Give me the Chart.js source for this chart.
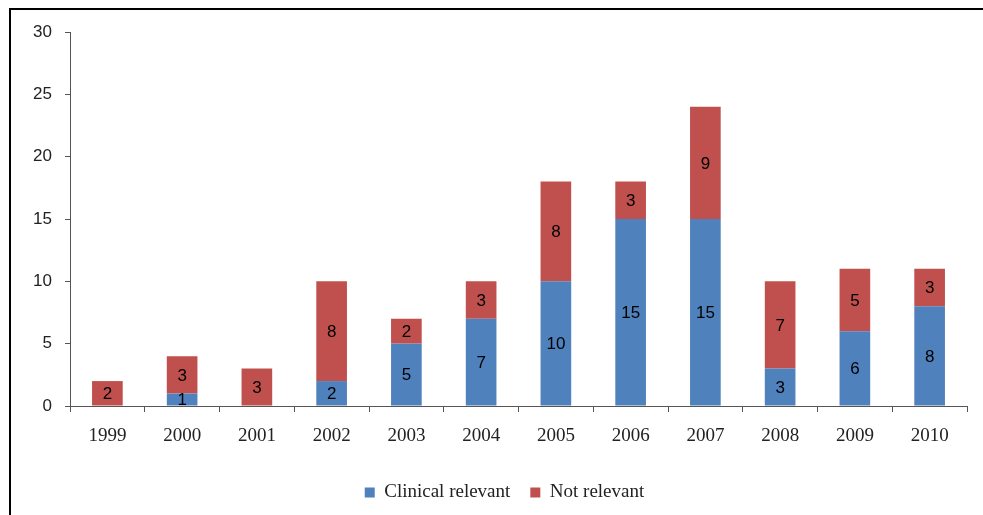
<!DOCTYPE html>
<html>
<head>
<meta charset="utf-8">
<script src="https://cdn.jsdelivr.net/npm/chart.js@4"></script>
<style>
  html, body { margin: 0; padding: 0; background: #fff; }
  #wrap { position: relative; width: 983px; height: 515px; }
  #frame { position: absolute; left: 9px; top: 8px; right: 0; bottom: 0; border-top: 2px solid #000; border-left: 2px solid #000; pointer-events: none; }
  canvas { position: absolute; left: 0; top: 0; }
</style>
</head>
<body>
<div id="wrap">
  <canvas id="chart" width="983" height="515"></canvas>
  <div id="frame"></div>
</div>
<script>
const years = ["1999", "2000", "2001", "2002", "2003", "2004", "2005", "2006", "2007", "2008", "2009", "2010"];
const clinicalRelevant = [0, 1, 0, 2, 5, 7, 10, 15, 15, 3, 6, 8];
const notRelevant = [2, 3, 3, 8, 2, 3, 8, 3, 9, 7, 5, 3];

const serif = "'Liberation Serif', 'DejaVu Serif', serif";
const sans = "'Liberation Sans', Arial, sans-serif";

// numbers in the middle of each bar segment
const barLabels = {
  id: "barLabels",
  afterDatasetsDraw(chart) {
    const ctx = chart.ctx;
    ctx.save();
    ctx.font = "17px " + sans;
    ctx.fillStyle = "#000";
    ctx.textAlign = "center";
    ctx.textBaseline = "middle";
    chart.data.datasets.forEach((ds, i) => {
      chart.getDatasetMeta(i).data.forEach((bar, j) => {
        const v = ds.data[j];
        if (!v) return;
        const p = bar.getProps(["x", "y", "base"], true);
        ctx.fillText(v, p.x, (p.y + p.base) / 2 + 1);
      });
    });
    ctx.restore();
  }
};

// legend sits a bit right of centre in the original
const legendShift = {
  id: "legendShift",
  afterLayout(chart) {
    const lg = chart.legend;
    if (lg) {
      lg.left += 21;
      lg.right += 21;
    }
  }
};

new Chart(document.getElementById("chart"), {
  type: "bar",
  data: {
    labels: years,
    datasets: [
      { label: "Clinical relevant", data: clinicalRelevant, backgroundColor: "#4F81BD" },
      { label: "Not relevant", data: notRelevant, backgroundColor: "#C0504D" }
    ]
  },
  options: {
    responsive: false,
    animation: false,
    barPercentage: 0.41,
    categoryPercentage: 1,
    layout: { padding: { top: 32, right: 16, left: 0, bottom: 3 } },
    scales: {
      x: {
        stacked: true,
        grid: { display: true, drawOnChartArea: false, drawTicks: true, tickLength: 6, color: "#555" },
        border: { display: true, color: "#555", width: 1 },
        ticks: { color: "#222", font: { family: serif, size: 19 }, padding: 13 },
        afterFit: s => { s.height = 57; }
      },
      y: {
        stacked: true,
        min: 0,
        max: 30,
        grid: { display: true, drawOnChartArea: false, drawTicks: true, tickLength: 5, color: "#555" },
        border: { display: true, color: "#555", width: 1 },
        ticks: { stepSize: 5, color: "#222", font: { family: sans, size: 17 }, padding: 13 },
        afterFit: s => { s.width = 70; }
      }
    },
    plugins: {
      legend: {
        position: "bottom",
        labels: { boxWidth: 10, boxHeight: 10, color: "#222", font: { family: serif, size: 19 }, padding: 20 }
      },
      tooltip: { enabled: false }
    }
  },
  plugins: [barLabels, legendShift]
});
</script>
</body>
</html>
